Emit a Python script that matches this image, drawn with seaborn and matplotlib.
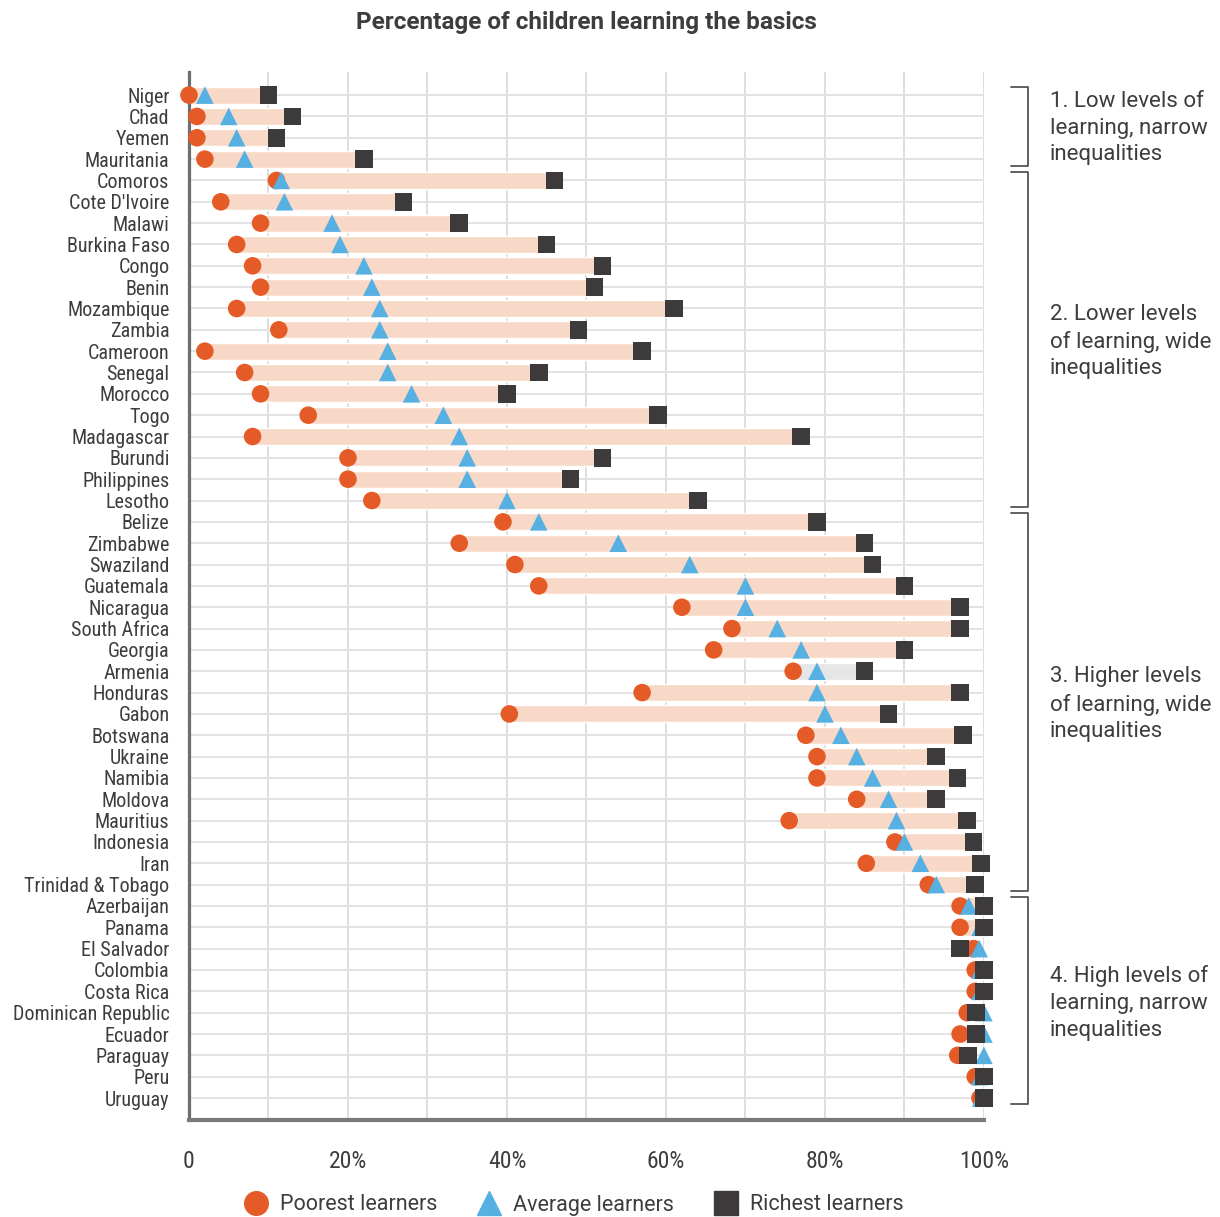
import matplotlib
matplotlib.use("Agg")
import matplotlib.pyplot as plt
from matplotlib import font_manager
from matplotlib.lines import Line2D
import seaborn as sns
import pandas as pd

countries = ["Niger", "Chad", "Yemen", "Mauritania", "Comoros", "Cote D'Ivoire", "Malawi",
             "Burkina Faso", "Congo", "Benin", "Mozambique", "Zambia", "Cameroon", "Senegal",
             "Morocco", "Togo", "Madagascar", "Burundi", "Philippines", "Lesotho", "Belize",
             "Zimbabwe", "Swaziland", "Guatemala", "Nicaragua", "South Africa", "Georgia",
             "Armenia", "Honduras", "Gabon", "Botswana", "Ukraine", "Namibia", "Moldova",
             "Mauritius", "Indonesia", "Iran", "Trinidad & Tobago", "Azerbaijan", "Panama",
             "El Salvador", "Colombia", "Costa Rica", "Dominican Republic", "Ecuador",
             "Paraguay", "Peru", "Uruguay"]

poorest = [0, 1, 1, 2, 11, 4, 9, 6, 8, 9, 6, 11.3, 2, 7, 9, 15, 8, 20, 20, 23,
           39.5, 34, 41, 44, 62, 68.3, 66, 76, 57, 40.3, 77.6, 79, 79, 84, 75.5, 88.8,
           85.2, 93, 97, 97, 98.7, 98.9, 98.9, 97.9, 97, 96.7, 98.9, 99.5]
average = [2, 5, 6, 7, 11.6, 12, 18, 19, 22, 23, 24, 24, 25, 25, 28, 32, 34, 35, 35, 40,
           44, 54, 63, 70, 70, 74, 77, 79, 79, 80, 82, 84, 86, 88, 89, 90, 92, 94,
           98.1, 99.5, 99.4, 99.5, 99.5, 100, 100, 100, 99.5, 99.6]
richest = [10, 13, 11, 22, 46, 27, 34, 45, 52, 51, 61, 49, 57, 44, 40, 59, 77, 52, 48, 64,
           79, 85, 86, 90, 97, 97, 90, 85, 97, 88, 97.4, 94, 96.7, 94, 97.9, 98.7, 99.6, 98.9,
           100, 100, 97, 100, 100, 99, 99, 98, 100, 100]

groups = ["1. Low levels of\nlearning, narrow\ninequalities",
          "2. Lower levels\nof learning, wide\ninequalities",
          "3. Higher levels\nof learning, wide\ninequalities",
          "4. High levels of\nlearning, narrow\ninequalities"]
group_rows = [(0, 3), (4, 19), (20, 37), (38, 47)]

series_names = ["Poorest learners", "Average learners", "Richest learners"]
colors = ["#e55b27", "#56b0e2", "#3c3a3b"]
markers = ["o", "^", "s"]
bar_color = "#f8d9c7"
grey_bar = "#e5e6e7"
text_color = "#3d3d3d"


def pick_font(names):
    have = {f.name for f in font_manager.fontManager.ttflist}
    for n in names:
        if n in have:
            return n
    return "DejaVu Sans"


sns.set_theme(style="white")
cond_font = pick_font(["Roboto Condensed", "Liberation Sans Narrow", "Roboto"])
main_font = pick_font(["Roboto", "DejaVu Sans"])
plt.rcParams["font.family"] = [main_font, "DejaVu Sans"]

rows = list(range(len(countries)))
df = pd.DataFrame({
    "row": rows * 3,
    "value": poorest + average + richest,
    "group": [s for s in series_names for _ in rows],
})

fig = plt.figure(figsize=(12.2, 12.17), dpi=100)
ax = fig.add_axes([0.1549, 0.0797, 0.6516, 0.8611])

# bars from poorest to richest
bar_cols = [grey_bar if c == "Armenia" else bar_color for c in countries]
ax.barh(rows, [r - p for p, r in zip(poorest, richest)], left=poorest,
        height=0.8, color=bar_cols, zorder=2)

sns.scatterplot(data=df, x="value", y="row", hue="group", style="group",
                hue_order=series_names, style_order=series_names,
                palette=colors, markers=markers, s=160, linewidth=0,
                legend=False, ax=ax, zorder=3, clip_on=False)

ax.set_xlim(0, 100)
ax.set_ylim(48.03, -1.08)
ax.set_yticks(rows)
ax.set_yticklabels(countries, fontsize=14.5, color=text_color, family=cond_font)
ax.set_xticks(range(0, 101, 20))
ax.set_xticks(range(0, 101, 10), minor=True)
ax.set_xticklabels(["0", "20%", "40%", "60%", "80%", "100%"], fontsize=17,
                   color=text_color, family=cond_font)
ax.set_xlabel("")
ax.set_ylabel("")
ax.tick_params(axis="y", length=0, pad=14)
ax.tick_params(axis="x", which="major", length=9.5, width=1.2, color="#777777", pad=12)
ax.tick_params(axis="x", which="minor", length=0)
ax.grid(axis="x", which="both", color="#dedede", lw=1.4, zorder=0)
ax.grid(axis="y", color="#e3e3e3", lw=1.4, zorder=0)
ax.set_axisbelow(True)

for side in ["top", "right"]:
    ax.spines[side].set_visible(False)
ax.spines["left"].set_color("#6d6e71")
ax.spines["left"].set_linewidth(2.3)
ax.spines["bottom"].set_color("#7a7a7a")
ax.spines["bottom"].set_linewidth(3)

# group brackets on the right
for label, (r0, r1) in zip(groups, group_rows):
    top, bot = r0 - 0.4, r1 + 0.3
    ax.plot([103.4, 105.5, 105.5, 103.4], [top, top, bot, bot], color="#555555",
            lw=1.3, clip_on=False)
    ax.text(108.3, (top + bot) / 2 + 0.1, label, fontsize=16, color=text_color,
            va="center", ha="left", linespacing=1.36)

fig.text(0.481, 1 - 23 / 1217, "Percentage of children learning the basics", ha="center",
         va="center", fontsize=17.5, fontweight="bold", color=text_color)

handles = [Line2D([], [], marker=m, color=c, linestyle="", markersize=17)
           for m, c in zip(markers, colors)]
fig.legend(handles, series_names, loc="center", bbox_to_anchor=(0.471, 1 - 1205 / 1217),
           ncol=3, frameon=False, fontsize=15.5, handlelength=1.0, handletextpad=0.62,
           columnspacing=1.9, labelcolor=text_color)

fig.savefig("out.png", dpi=100)
